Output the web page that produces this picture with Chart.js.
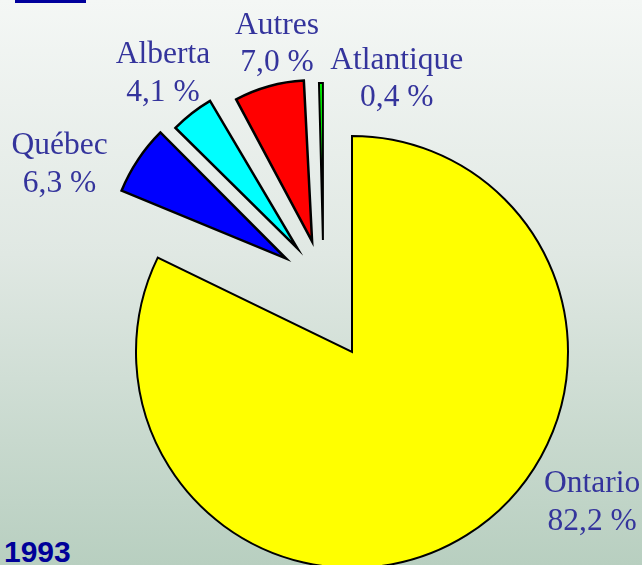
<!DOCTYPE html>
<html><head><meta charset="utf-8">
<script src="https://cdn.jsdelivr.net/npm/chart.js@4.4.1/dist/chart.umd.min.js"></script>
<style>
html,body{margin:0;padding:0;}
#wrap{position:relative;width:642px;height:565px;overflow:hidden;background:linear-gradient(to bottom,#f4f7f5 0%,#e0e8e3 45%,#b8cfc0 100%);}
#wrap canvas{position:absolute;left:0;top:0;}
#bar{position:absolute;left:15px;top:0;width:71px;height:3px;background:#00009c;}
#year{position:absolute;left:4px;top:535px;font:bold 30px "Liberation Sans",Arial,sans-serif;color:#000099;line-height:34px;}
</style></head>
<body><div id="wrap"><div id="bar"></div><div id="year">1993</div></div>
<script>
// ---- data ----
const regions = ['Ontario', 'Québec', 'Alberta', 'Autres', 'Atlantique'];
const shares = [82.2, 6.3, 4.1, 7.0, 0.4];
const sliceColors = ['#ffff00', '#0000ff', '#00ffff', '#ff0000', '#00ff00'];

// ---- layout / style ----
const W = 642, H = 565;
const pieCenter = {x: 352, y: 352};
const pieRadius = 216;
const explodeBase = {dx: -28.5, dy: -65};
const explodeDist = 47;
const explodeRadius = [0, 178, 171, 161, 157];
const explodeRotation = [0, -3.5, -4, -1.5, 0];
const borderWidths = [2, 2.5, 2.5, 2.5, 2];
const labelShiftDeg = [-27.7, -3.2, 0.8, 0.8, 9.7];
const labelDist = [278, 353, 345, 327, 287];
const labelFont = '31.5px "Liberation Serif", "Times New Roman", serif';
const labelColor = '#34349c';
const lineGap = 37.5;

const wrap = document.getElementById('wrap');
const total = shares.reduce((a, b) => a + b, 0);
function midAngle(i) {
  let cum = 0;
  for (let k = 0; k < i; k++) cum += shares[k];
  return -Math.PI / 2 + 2 * Math.PI * (cum + shares[i] / 2) / total;
}
function fmt(v) { return v.toFixed(1).replace('.', ',') + ' %'; }
function paddingFor(cx, cy) {
  return {
    left: Math.max(0, 2 * cx - W), right: Math.max(0, W - 2 * cx),
    top: Math.max(0, 2 * cy - H), bottom: Math.max(0, H - 2 * cy)
  };
}

const labelPlugin = {
  id: 'sliceLabels',
  afterDatasetsDraw(chart) {
    const meta = chart.getDatasetMeta(0);
    const ctx = chart.ctx;
    ctx.save();
    ctx.font = labelFont;
    ctx.fillStyle = labelColor;
    ctx.textAlign = 'center';
    ctx.textBaseline = 'alphabetic';
    meta.data.forEach((arc, i) => {
      const a = (arc.startAngle + arc.endAngle) / 2 + labelShiftDeg[i] * Math.PI / 180;
      const x = arc.x + labelDist[i] * Math.cos(a);
      const y = arc.y + labelDist[i] * Math.sin(a);
      ctx.fillText(regions[i], x, y);
      ctx.fillText(fmt(shares[i]), x, y + lineGap);
    });
    ctx.restore();
  }
};

function makePie(idx, cx, cy, radius, rotationDeg, plugins) {
  const cv = document.createElement('canvas');
  cv.width = W; cv.height = H;
  cv.style.width = W + 'px'; cv.style.height = H + 'px';
  wrap.appendChild(cv);
  return new Chart(cv, {
    type: 'pie',
    data: {
      labels: regions,
      datasets: [{
        data: shares,
        backgroundColor: sliceColors.map((c, i) => i === idx ? c : 'rgba(0,0,0,0)'),
        borderColor: sliceColors.map((c, i) => i === idx ? '#000000' : 'rgba(0,0,0,0)'),
        borderWidth: borderWidths[idx],
        borderJoinStyle: 'miter',
        clip: false
      }]
    },
    options: {
      responsive: false,
      animation: false,
      events: [],
      devicePixelRatio: 1,
      radius: radius,
      rotation: rotationDeg,
      layout: {padding: paddingFor(cx, cy)},
      plugins: {legend: {display: false}, tooltip: {enabled: false}}
    },
    plugins: plugins || []
  });
}

// main slice (Ontario) + labels
makePie(0, pieCenter.x, pieCenter.y, pieRadius, 0, [labelPlugin]);
// exploded slices
for (let i = 1; i < shares.length; i++) {
  const a = midAngle(i);
  const cx = pieCenter.x + explodeBase.dx + explodeDist * Math.cos(a);
  const cy = pieCenter.y + explodeBase.dy + explodeDist * Math.sin(a);
  makePie(i, cx, cy, explodeRadius[i], explodeRotation[i]);
}
</script>
</body></html>
